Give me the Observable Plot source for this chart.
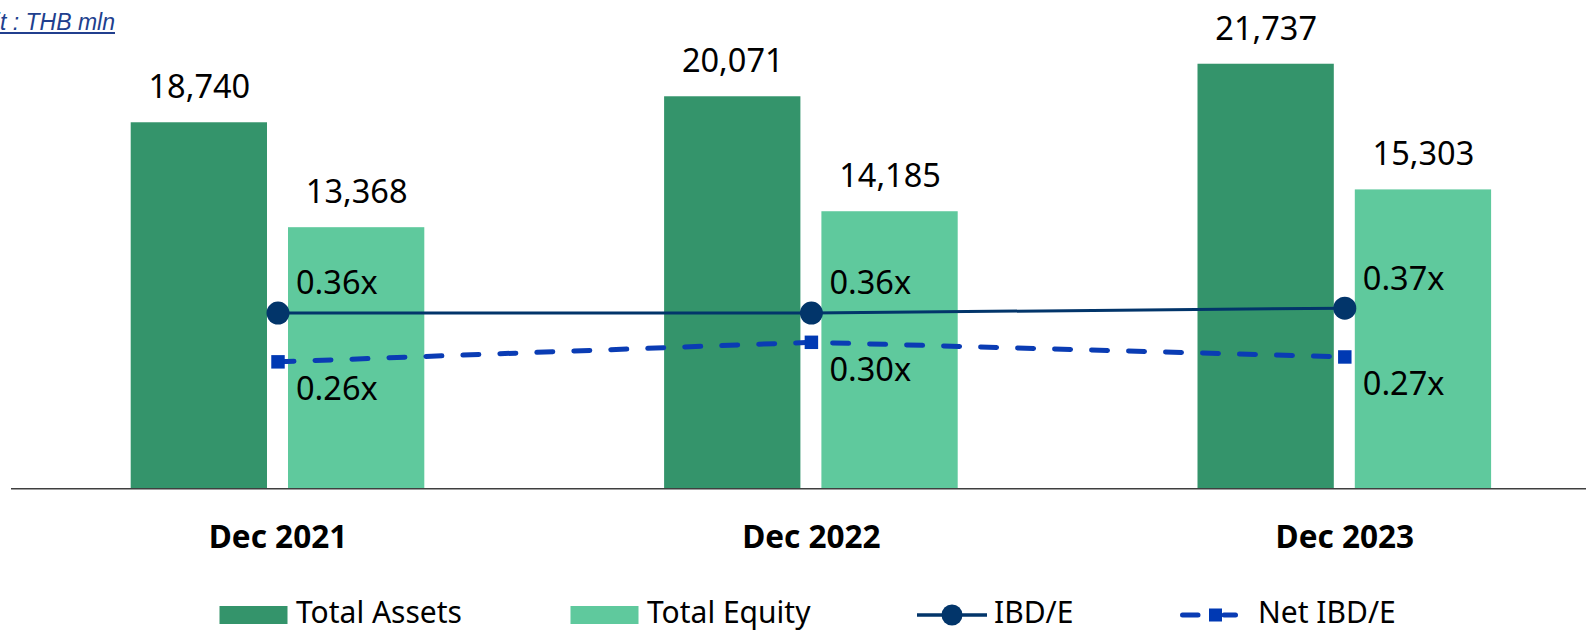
<!DOCTYPE html>
<html><head><meta charset="utf-8">
<script src="https://cdn.jsdelivr.net/npm/d3@7"></script>
<script src="https://cdn.jsdelivr.net/npm/@observablehq/plot@0.6"></script>
<style>
html,body{margin:0;padding:0;background:#fff;overflow:hidden;}
#wrap{position:relative;width:1586px;height:632px;}
#unit{position:absolute;left:115px;top:10.5px;transform:translateX(-100%);font:italic 23px 'Liberation Sans',Arial,sans-serif;line-height:1;color:#213F8E;text-decoration:underline;white-space:nowrap;}
#chart svg,#legend svg{display:block;}
</style></head><body>
<div id="wrap"><div id="chart"></div><div id="legend"></div><div id="unit">Unit : THB mln</div></div>
<script>
// ---- data ----
const years = ["Dec 2021", "Dec 2022", "Dec 2023"];
const totalAssets = [18740, 20071, 21737];
const totalEquity = [13368, 14185, 15303];
const ibdE = [0.36, 0.36, 0.37];
const netIbdE = [0.26, 0.30, 0.27];
const seriesNames = ["Total Assets", "Total Equity", "IBD/E", "Net IBD/E"];
const seriesColors = ["#34946B", "#5FC99D", "#02356A", "#0A3CB4"];
const squareColor = "#0039B3";

// primary (THB mln) and secondary (ratio) axis maxima
const yMax = 25000, y2Max = 1.0;
const toY = v => v * yMax / y2Max;

const rows = years.map((year, i) => ({
  year, assets: totalAssets[i], equity: totalEquity[i], ibd: ibdE[i], net: netIbdE[i]
}));
const fmt = d3.format(",");
const FONT = "'Noto Sans', sans-serif";

const chart = Plot.plot({
  width: 1586,
  height: 580,
  marginLeft: 11,
  marginRight: 0,
  marginTop: 0,
  marginBottom: 91.7,
  style: {fontFamily: FONT, background: "#fff", color: "#000"},
  x: {domain: years, range: [10.8, 1611], padding: 0, round: false, axis: null},
  y: {domain: [0, yMax], axis: null},
  marks: [
    Plot.barY(rows, {x: "year", y: "assets", fill: seriesColors[0], insetLeft: 119.9, insetRight: 277.2}),
    Plot.barY(rows, {x: "year", y: "equity", fill: seriesColors[1], insetLeft: 277.2, insetRight: 119.9}),
    Plot.ruleY([0], {stroke: "#3f3f3f", strokeWidth: 1.5}),
    Plot.text(rows, {x: "year", y: "assets", text: d => fmt(d.assets), dx: -78.65, dy: -35, lineAnchor: "middle", fontSize: 32.5}),
    Plot.text(rows, {x: "year", y: "equity", text: d => fmt(d.equity), dx: 78.65, dy: -35, lineAnchor: "middle", fontSize: 32.5}),
    Plot.line(rows, {x: "year", y: d => toY(d.ibd), stroke: seriesColors[2], strokeWidth: 3}),
    Plot.line(rows, {x: "year", y: d => toY(d.net), stroke: seriesColors[3], strokeWidth: 5, strokeDasharray: "16,21", strokeLinecap: "round"}),
    Plot.dot(rows, {x: "year", y: d => toY(d.ibd), r: 11.5, fill: seriesColors[2], stroke: "none"}),
    Plot.dot(rows, {x: "year", y: d => toY(d.net), r: 7.6, symbol: "square", fill: squareColor, stroke: "none"}),
    Plot.text(rows, {x: "year", y: d => toY(d.ibd), text: d => d.ibd.toFixed(2) + "x", dx: 18, dy: -29, textAnchor: "start", lineAnchor: "middle", fontSize: 32.5}),
    Plot.text(rows, {x: "year", y: d => toY(d.net), text: d => d.net.toFixed(2) + "x", dx: 18, dy: 28, textAnchor: "start", lineAnchor: "middle", fontSize: 32.5}),
    Plot.text(years, {x: d => d, frameAnchor: "bottom", text: d => d, dy: 36.7, lineAnchor: "top", fontSize: 31.5, fontWeight: "bold"})
  ]
});
document.getElementById("chart").appendChild(chart);

// ---- legend (below the chart) ----
const lg = d3.select("#legend").append("svg").attr("width", 1586).attr("height", 52)
  .style("font-family", FONT);
const cy = 35, base = 43, fs = 30;
const items = [
  {name: seriesNames[0], sym: "rect", color: seriesColors[0], x0: 219.5, tx: 296},
  {name: seriesNames[1], sym: "rect", color: seriesColors[1], x0: 570.5, tx: 647},
  {name: seriesNames[2], sym: "lineDot", color: seriesColors[2], x0: 917, tx: 994},
  {name: seriesNames[3], sym: "dashSquare", color: seriesColors[3], x0: 1180, tx: 1258}
];
for (const it of items) {
  const g = lg.append("g");
  if (it.sym === "rect") {
    g.append("rect").attr("x", it.x0).attr("y", cy - 9).attr("width", 68).attr("height", 18).attr("fill", it.color);
  } else if (it.sym === "lineDot") {
    g.append("line").attr("x1", it.x0).attr("x2", it.x0 + 70).attr("y1", cy).attr("y2", cy)
      .attr("stroke", it.color).attr("stroke-width", 3.5);
    g.append("circle").attr("cx", it.x0 + 35).attr("cy", cy).attr("r", 10.5).attr("fill", it.color);
  } else {
    g.append("line").attr("x1", it.x0 + 2.5).attr("x2", it.x0 + 18).attr("y1", cy).attr("y2", cy)
      .attr("stroke", it.color).attr("stroke-width", 5).attr("stroke-linecap", "round");
    g.append("line").attr("x1", it.x0 + 44).attr("x2", it.x0 + 55.5).attr("y1", cy).attr("y2", cy)
      .attr("stroke", it.color).attr("stroke-width", 5).attr("stroke-linecap", "round");
    g.append("rect").attr("x", it.x0 + 29).attr("y", cy - 6.5).attr("width", 13).attr("height", 13).attr("fill", squareColor);
  }
  g.append("text").attr("x", it.tx).attr("y", base).attr("font-size", fs).attr("fill", "#000").text(it.name);
}
</script>
</body></html>
